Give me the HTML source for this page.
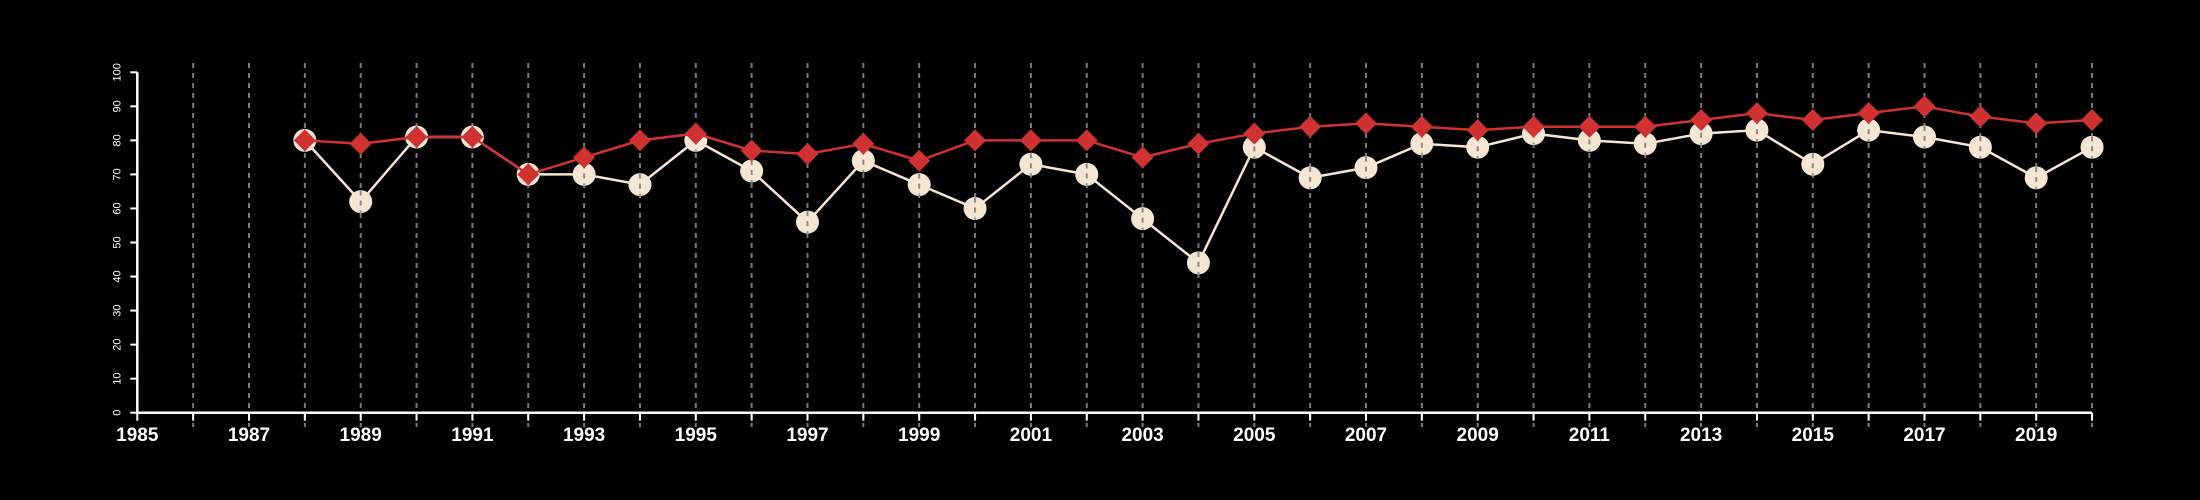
<!DOCTYPE html>
<html><head><meta charset="utf-8"><style>
html,body{margin:0;padding:0;background:#000;}
svg{display:block;font-family:"Liberation Sans",sans-serif;}
</style></head><body>
<svg id="chart" width="2200" height="500" viewBox="0 0 2200 500">
<rect width="2200" height="500" fill="#000"/>
<g id="grid"></g>
<g id="axes"></g>
<g id="series"></g>
</svg>
<script>
const years = [1988,1989,1990,1991,1992,1993,1994,1995,1996,1997,1998,1999,2000,2001,2002,2003,2004,2005,2006,2007,2008,2009,2010,2011,2012,2013,2014,2015,2016,2017,2018,2019,2020];
const redValues = [80,79,81,81,70,75,80,82,77,76,79,74,80,80,80,75,79,82,84,85,84,83,84,84,84,86,88,86,88,90,87,85,86];
const creamValues = [80,62,81,81,70,70,67,80,71,56,74,67,60,73,70,57,44,78,69,72,79,78,82,80,79,82,83,73,83,81,78,69,78];
const yTicks = [0,10,20,30,40,50,60,70,80,90,100];
const xTickYears = [1985,1986,1987,1988,1989,1990,1991,1992,1993,1994,1995,1996,1997,1998,1999,2000,2001,2002,2003,2004,2005,2006,2007,2008,2009,2010,2011,2012,2013,2014,2015,2016,2017,2018,2019,2020];

const NS = "http://www.w3.org/2000/svg";
const x = yr => 137.3 + (yr - 1985) * 55.85;
const y = v => 412.7 - v * 3.404;
function mk(tag, attrs, parent){const e=document.createElementNS(NS,tag);for(const k in attrs)e.setAttribute(k,attrs[k]);parent.appendChild(e);return e;}
const grid=document.getElementById('grid'), axes=document.getElementById('axes'), series=document.getElementById('series');

let ax=mk('line',{x1:x(1985),x2:x(2020),y1:y(0),y2:y(0),stroke:'#fff','stroke-width':2.5},axes);


let ay=mk('line',{x1:x(1985),x2:x(1985),y1:y(0),y2:y(100),stroke:'#fff','stroke-width':2.5},axes);


yTicks.forEach(t=>{
  const tk=mk('line',{x1:x(1985)-7,x2:x(1985),y1:y(t),y2:y(t),stroke:'#fff','stroke-width':2},axes);
  
  
  const lb=mk('text',{x:0,y:0,fill:'#fff','font-size':11,'text-anchor':'middle',transform:`translate(${x(1985)-17},${y(t)}) rotate(-90)`},axes);
  lb.textContent=t;
  
  
});
xTickYears.forEach(yr=>{
  if(yr>1985){
    const g=mk('line',{x1:x(yr),x2:x(yr),y1:63,y2:427,stroke:'#7a7a7a','stroke-width':2,'stroke-dasharray':'5,5'},grid);
    
    
  }
  const tk=mk('line',{x1:x(yr),x2:x(yr),y1:y(0),y2:y(0)+8,stroke:'#fff','stroke-width':2},axes);
  
  
  if(yr%2===1){
    const lb=mk('text',{x:x(yr),y:441,fill:'#fff','font-size':19,'font-weight':'bold','text-anchor':'middle'},axes);
    lb.textContent=yr;
    
    
  }
});

const cl=mk('polyline',{points:years.map((yr,i)=>x(yr)+','+y(creamValues[i])).join(' '),fill:'none',stroke:'#f5e6d3','stroke-width':2.5},series);


years.forEach((yr,i)=>{
  const c=mk('circle',{cx:x(yr),cy:y(creamValues[i]),r:11.5,fill:'#f5e6d3'},series);
  
  
  const d=mk('line',{x1:x(yr),x2:x(yr),y1:y(creamValues[i])-11,y2:y(creamValues[i])+11,stroke:'#8a8a8a','stroke-width':2,'stroke-dasharray':'5,5'},series);
  
  
});
const rl=mk('polyline',{points:years.map((yr,i)=>x(yr)+','+y(redValues[i])).join(' '),fill:'none',stroke:'#d03232','stroke-width':2.5},series);


years.forEach((yr,i)=>{
  const cx=x(yr), cy=y(redValues[i]), s=11;
  const p=mk('polygon',{points:`${cx},${cy-s} ${cx+s},${cy} ${cx},${cy+s} ${cx-s},${cy}`,fill:'#d03232'},series);
  
  
});
</script>
</body></html>
